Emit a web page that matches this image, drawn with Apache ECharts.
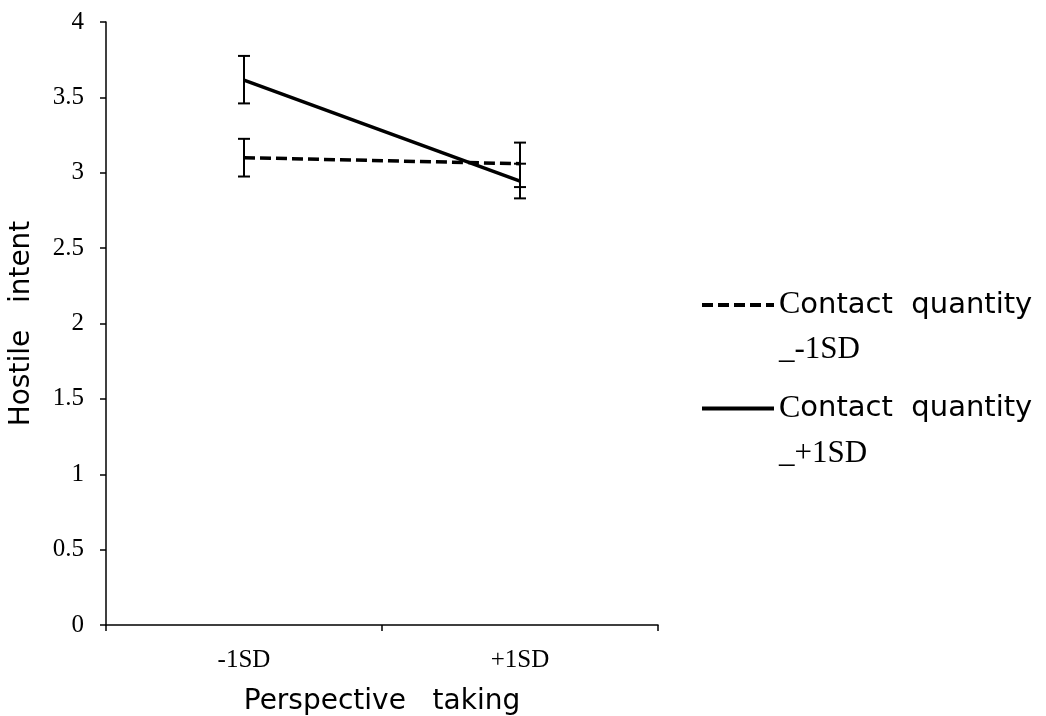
<!DOCTYPE html>
<html>
<head>
<meta charset="utf-8">
<script src="https://cdn.jsdelivr.net/npm/echarts@6/dist/echarts.min.js"></script>
<style>
html,body{margin:0;padding:0;background:#fff;}
#chart{width:1046px;height:716px;}
</style>
</head>
<body>
<div id="chart"></div>
<script>
var categories = ['-1SD', '+1SD'];
var seriesNames = ['Contact quantity _-1SD', 'Contact quantity _+1SD'];
var lowContact = [3.10, 3.06];
var highContact = [3.615, 2.945];
var lowContactErr = [[2.975, 3.225], [2.905, 3.20]];
var highContactErr = [[3.46, 3.775], [2.83, 3.06]];
var yTicks = [0, 0.5, 1, 1.5, 2, 2.5, 3, 3.5, 4];

function errorSeries(errs) {
  return {
    type: 'custom',
    silent: true,
    z: 5,
    data: errs.map(function (e, i) { return [i, e[0], e[1]]; }),
    renderItem: function (params, api) {
      var lo = api.coord([api.value(0), api.value(1)]);
      var hi = api.coord([api.value(0), api.value(2)]);
      var w = 6;
      var st = { stroke: '#000', lineWidth: 2 };
      return {
        type: 'group',
        children: [
          { type: 'line', shape: { x1: lo[0], y1: lo[1], x2: hi[0], y2: hi[1] }, style: st },
          { type: 'line', shape: { x1: lo[0] - w, y1: lo[1], x2: lo[0] + w, y2: lo[1] }, style: st },
          { type: 'line', shape: { x1: hi[0] - w, y1: hi[1], x2: hi[0] + w, y2: hi[1] }, style: st }
        ]
      };
    }
  };
}

var chart = echarts.init(document.getElementById('chart'));
chart.setOption({
  backgroundColor: '#fff',
  animation: false,
  grid: { left: 106, right: 388, top: 22, bottom: 91, containLabel: false, outerBoundsMode: 'none' },
  xAxis: {
    type: 'category',
    data: categories,
    boundaryGap: true,
    name: 'Perspective   taking',
    nameLocation: 'middle',
    nameGap: 63,
    nameTextStyle: { fontFamily: 'DejaVu Sans', fontSize: 28, color: '#000' },
    axisLine: { lineStyle: { color: '#000', width: 1.5 } },
    axisTick: { show: true, length: 6, lineStyle: { color: '#000', width: 1.5 }, alignWithLabel: false },
    axisLabel: { margin: 23, fontFamily: 'Liberation Serif', fontSize: 25, color: '#000' },
    splitLine: { show: false }
  },
  yAxis: {
    type: 'value',
    min: yTicks[0],
    max: yTicks[yTicks.length - 1],
    interval: 0.5,
    name: 'Hostile   intent',
    nameLocation: 'middle',
    nameGap: 70,
    nameRotate: 90,
    nameTextStyle: { fontFamily: 'DejaVu Sans', fontSize: 28, color: '#000' },
    axisLine: { show: true, lineStyle: { color: '#000', width: 1.5 } },
    axisTick: { show: true, length: 6, lineStyle: { color: '#000', width: 1.5 } },
    axisLabel: { margin: 22, fontFamily: 'Liberation Serif', fontSize: 25, color: '#000' },
    splitLine: { show: false }
  },
  legend: {
    orient: 'vertical',
    left: 695,
    top: 250,
    itemWidth: 72,
    itemHeight: 12,
    itemGap: -7,
    data: seriesNames,
    itemStyle: { opacity: 0 },
    lineStyle: { width: 4 },
    formatter: function (name) {
      var parts = name.split(' ');
      return '{e| }\n{s|C}{a|ontact  quantity}\n{b|' + parts[2] + '}';
    },
    textStyle: {
      color: '#000',
      rich: {
        e: { fontSize: 10, lineHeight: 45 },
        s: { fontFamily: 'Liberation Serif', fontSize: 32, color: '#000', lineHeight: 45 },
        a: { fontFamily: 'DejaVu Sans', fontSize: 29, color: '#000', lineHeight: 45 },
        b: { fontFamily: 'Liberation Serif', fontSize: 31, color: '#000', lineHeight: 45 }
      }
    }
  },
  series: [
    {
      name: seriesNames[0],
      type: 'line',
      data: lowContact,
      symbol: 'none',
      z: 3,
      lineStyle: { color: '#000', width: 3.5, type: [11, 5] },
      itemStyle: { color: '#000' }
    },
    {
      name: seriesNames[1],
      type: 'line',
      data: highContact,
      symbol: 'none',
      z: 3,
      lineStyle: { color: '#000', width: 3.5, type: 'solid' },
      itemStyle: { color: '#000' }
    },
    errorSeries(lowContactErr),
    errorSeries(highContactErr)
  ]
});
</script>
</body>
</html>
